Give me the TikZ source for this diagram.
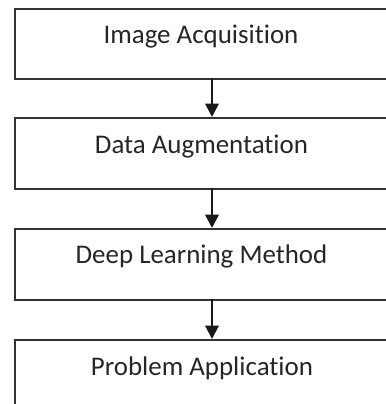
\documentclass[tikz,border=0pt]{standalone}
\usepackage{fontspec}
\setmainfont{Carlito}[Ligatures={NoCommon}]
\usetikzlibrary{arrows.meta}
\begin{document}
\begin{tikzpicture}[x=0.75pt,y=-0.75pt,
  stagebox/.style={draw=black!80, line width=1.6pt, rectangle, inner sep=0pt,
    minimum width=376*0.75pt, minimum height=70.5*0.75pt, anchor=north west},
  stagetext/.style={font=\fontsize{20.2pt}{22pt}\selectfont, text=black!85,
    anchor=base, inner sep=0pt},
  flow/.style={draw=black!90, line width=1.7pt,
    -{Triangle[length=10pt,width=10pt]}, shorten >=0pt}]
  \useasboundingbox (0,0) rectangle (386,404);
  \clip (0,0) rectangle (386,404);
  \fill[white] (0,0) rectangle (386,404);

  % stage boxes (right edge runs past the page)
  \node[stagebox] (b1) at (13.5,7.5) {};
  \node[stagebox] (b2) at (13.5,117) {};
  \node[stagebox] (b3) at (13.5,228) {};
  \node[stagebox, minimum height=90*0.75pt] (b4) at (13.5,339) {};

  % captions
  \node[stagetext] (t1) at (201,43) {Image Acquisition};
  \node[stagetext] (t2) at (201.5,153) {Data Augmentation};
  \node[stagetext] (t3) at (201.5,263) {Deep Learning Method};
  \node[stagetext] (t4) at (202,375) {Problem Application};

  % connectors
  \coordinate (a1) at (212,78);
  \coordinate (a2) at (212,187.5);
  \coordinate (a3) at (212,298.5);
  \coordinate (e2) at (212,117);
  \coordinate (e3) at (212,228);
  \coordinate (e4) at (212,339);
  \draw[flow] (a1) -- (e2);
  \draw[flow] (a2) -- (e3);
  \draw[flow] (a3) -- (e4);
\end{tikzpicture}
\end{document}
